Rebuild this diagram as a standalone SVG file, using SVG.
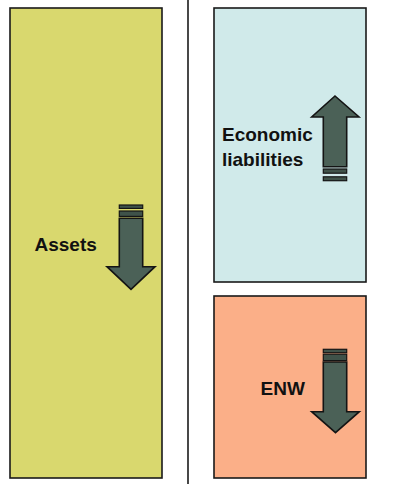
<svg xmlns="http://www.w3.org/2000/svg" width="414" height="484" viewBox="0 0 414 484">
  <style>
    .box { stroke: #1a1a1a; stroke-width: 1.6; }
    .arrow { fill: #4b6157; stroke: #141414; stroke-width: 1.6; stroke-linejoin: miter; }
    .stripe { fill: #3f5249; stroke: #141414; stroke-width: 1.2; }
    .label { font-family: "Liberation Sans", Arial, sans-serif; font-weight: bold; font-size: 19px; fill: #111; }
  </style>
  <rect width="414" height="484" fill="#ffffff"/>

  <!-- balance sheet divider -->
  <g id="connectors">
    <line x1="188" y1="0" x2="188" y2="484" stroke="#1a1a1a" stroke-width="1.6"/>
  </g>

  <g id="assets">
    <rect class="box" x="10" y="8" width="152" height="470" fill="#d9d86e"/>
    <text class="label" x="34.5" y="251">Assets</text>
    <rect class="stripe" x="119.3" y="205" width="23.4" height="3.4"/>
    <rect class="stripe" x="119.3" y="211" width="23.4" height="5.4"/>
    <polygon class="arrow" points="119.3,218.3 142.7,218.3 142.7,266.7 155,266.7 131,289.3 107,266.7 119.3,266.7"/>
  </g>

  <g id="economic-liabilities">
    <rect class="box" x="214" y="8" width="152" height="274" fill="#d0eaea"/>
    <text class="label" x="222" y="140.5">Economic</text>
    <text class="label" x="222" y="165.5">liabilities</text>
    <polygon class="arrow" points="335,96 359,117 346.7,117 346.7,166.7 323.3,166.7 323.3,117 311.7,117"/>
    <rect class="stripe" x="323.3" y="169" width="23.4" height="4.2"/>
    <rect class="stripe" x="323.3" y="176.8" width="23.4" height="3.9"/>
  </g>

  <g id="enw">
    <rect class="box" x="214" y="296" width="152" height="182" fill="#fbaf88"/>
    <text class="label" x="260.5" y="395">ENW</text>
    <rect class="stripe" x="323.3" y="349.3" width="23.4" height="3.4"/>
    <rect class="stripe" x="323.3" y="354.2" width="23.4" height="6.4"/>
    <polygon class="arrow" points="323.3,362 346.7,362 346.7,411.7 359.3,411.7 335.5,432.7 311.7,411.7 323.3,411.7"/>
  </g>
</svg>
